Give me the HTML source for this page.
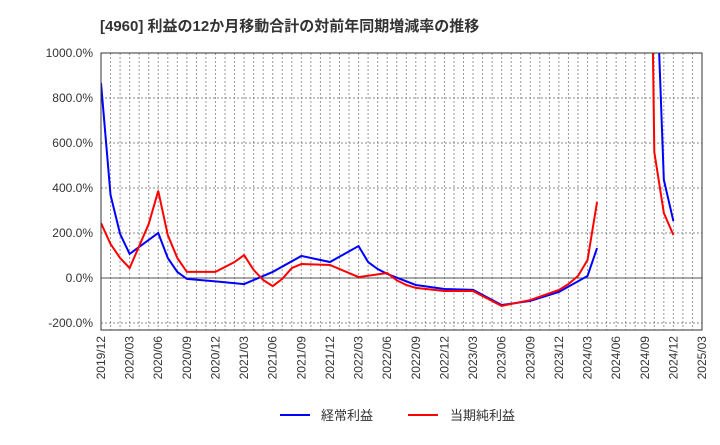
<!DOCTYPE html>
<html><head><meta charset="utf-8"><style>
body{margin:0;background:#fff;}
svg{font-family:"Liberation Sans","Noto Sans CJK JP",sans-serif;}
</style></head><body>
<svg id="chart" width="720" height="440">
<text x="100" y="31" font-size="15" font-weight="bold" fill="#333">[4960]  利益の12か月移動合計の対前年同期増減率の推移</text>
<defs><clipPath id="pc"><rect x="101" y="53" width="601" height="277"/></clipPath></defs>
<g id="grid"></g><g id="axes"></g><g id="series" clip-path="url(#pc)"></g>
<rect x="101" y="53" width="601" height="277" fill="none" stroke="#333"/>
<g>
<line x1="280" y1="415" x2="310" y2="415" stroke="#0000ff" stroke-width="2"/>
<text x="321" y="420" font-size="13" fill="#333">経常利益</text>
<line x1="408" y1="415" x2="438" y2="415" stroke="#ff0000" stroke-width="2"/>
<text x="450" y="420" font-size="13" fill="#333">当期純利益</text>
</g>
</svg>
<script>
const yTicks=[1000,800,600,400,200,0,-200];
const xLabels=["2019/12","2020/03","2020/06","2020/09","2020/12","2021/03","2021/06","2021/09","2021/12","2022/03","2022/06","2022/09","2022/12","2023/03","2023/06","2023/09","2023/12","2024/03","2024/06","2024/09","2024/12","2025/03"];
const blueMonths=[0,1,2,3,6,7,8,9,12,15,18,21,24,27,28,29,30,33,36,39,42,45,48,51,52,58,59,60];
const blueValues=[867,369,196,107,200,89,27,-4,-15,-27,27,98,71,142,71,40,18,-31,-49,-53,-120,-102,-62,9,133,1590,436,253];
const redMonths=[0,1,2,3,5,6,7,8,9,12,14,15,16,17,18,19,20,21,24,27,30,31,32,33,36,39,42,45,48,49,50,51,52,57,58,59,60];
const redValues=[244,151,89,44,240,387,191,89,27,27,71,102,36,-9,-36,-4,44,62,58,4,22,-10,-31,-44,-58,-58,-124,-98,-53,-27,9,80,338,3700,560,289,191];
const X0=101,X1=702,Y0=278,PER=45/200;
const xs=m=>X0+m*(X1-X0)/63;
const ys=v=>Y0-v*PER;
const NS="http://www.w3.org/2000/svg";
const grid=document.getElementById('grid'),axes=document.getElementById('axes'),ser=document.getElementById('series');
for(let m=1;m<63;m++){const l=document.createElementNS(NS,'line');


l.setAttribute('x1',xs(m));l.setAttribute('x2',xs(m));l.setAttribute('y1',53);l.setAttribute('y2',330);l.setAttribute('stroke','#999');l.setAttribute('stroke-dasharray','2,2');grid.appendChild(l);}
yTicks.forEach(v=>{const l=document.createElementNS(NS,'line');


l.setAttribute('x1',X0);l.setAttribute('x2',X1);l.setAttribute('y1',ys(v));l.setAttribute('y2',ys(v));
l.setAttribute('stroke',v===0?'#555':'#888');if(v!==0)l.setAttribute('stroke-dasharray','2,2');grid.appendChild(l);
const t=document.createElementNS(NS,'text');


t.setAttribute('x',93);t.setAttribute('y',ys(v)+4);t.setAttribute('text-anchor','end');t.setAttribute('font-size','12');t.setAttribute('fill','#333');t.textContent=v.toFixed(1)+'%';axes.appendChild(t);});
xLabels.forEach((s,i)=>{const x=xs(i*3);const t=document.createElementNS(NS,'text');


t.setAttribute('transform',`translate(${x+4},336) rotate(-90)`);t.setAttribute('text-anchor','end');t.setAttribute('font-size','12');t.setAttribute('fill','#333');t.textContent=s;axes.appendChild(t);});
function draw(ms,vs,c,name){const p=document.createElementNS(NS,'polyline');


p.setAttribute('points',ms.map((m,i)=>xs(m)+','+ys(vs[i])).join(' '));p.setAttribute('fill','none');p.setAttribute('stroke',c);p.setAttribute('stroke-width','2');ser.appendChild(p);}
function drawSeg(ms,vs,c,name){let cur=[[],[]];for(let i=0;i<ms.length;i++){if(i>0&&ms[i]-ms[i-1]>4){draw(cur[0],cur[1],c,name);cur=[[],[]];}cur[0].push(ms[i]);cur[1].push(vs[i]);}draw(cur[0],cur[1],c,name);}
drawSeg(blueMonths,blueValues,'#0000ff','ordinary-profit-line');
drawSeg(redMonths,redValues,'#ff0000','net-profit-line');
</script>
</body></html>
